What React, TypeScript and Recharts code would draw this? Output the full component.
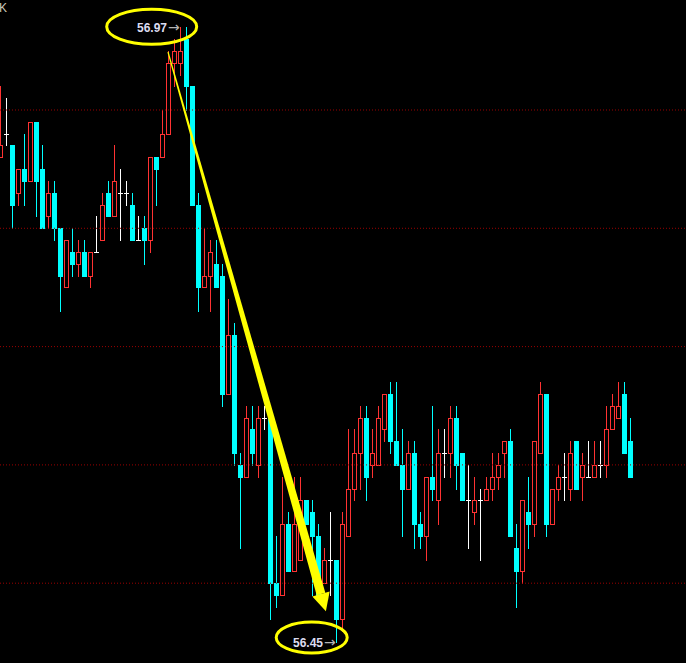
import React from 'react';
import { ComposedChart, Bar, XAxis, YAxis, ReferenceLine } from 'recharts';

// OHLC per candle (price), left to right
const opens = [
  56.86, 56.88, 56.87, 56.83, 56.85, 56.84, 56.89, 56.85, 56.81, 56.83,
  56.80, 56.75, 56.78, 56.77, 56.78, 56.76, 56.78, 56.79, 56.83, 56.81,
  56.83, 56.83, 56.82, 56.79, 56.80, 56.79, 56.86, 56.86, 56.88, 56.94,
  56.94, 56.96, 56.92, 56.82, 56.75, 56.76, 56.77, 56.76, 56.66, 56.71,
  56.60, 56.59, 56.63, 56.60, 56.64, 56.64, 56.50, 56.49, 56.55, 56.51,
  56.52, 56.57, 56.56, 56.54, 56.50, 56.52, 56.52, 56.47, 56.54, 56.58,
  56.61, 56.64, 56.60, 56.60, 56.63, 56.66, 56.62, 56.60, 56.58, 56.61,
  56.55, 56.54, 56.59, 56.57, 56.61, 56.61, 56.64, 56.61, 56.57, 56.56,
  56.57, 56.57, 56.58, 56.59, 56.61, 56.62, 56.53, 56.51, 56.56, 56.55,
  56.61, 56.66, 56.55, 56.58, 56.59, 56.58, 56.62, 56.59, 56.59, 56.59,
  56.60, 56.60, 56.63, 56.64, 56.66, 56.62,
];
const highs = [
  56.92, 56.91, 56.87, 56.85, 56.88, 56.89, 56.89, 56.87, 56.84, 56.84,
  56.80, 56.79, 56.80, 56.79, 56.79, 56.78, 56.81, 56.83, 56.84, 56.87,
  56.85, 56.84, 56.83, 56.81, 56.81, 56.86, 56.86, 56.90, 56.95, 56.96,
  56.97, 56.97, 56.92, 56.83, 56.80, 56.79, 56.79, 56.77, 56.74, 56.72,
  56.61, 56.65, 56.65, 56.65, 56.65, 56.65, 56.54, 56.59, 56.56, 56.59,
  56.59, 56.57, 56.57, 56.55, 56.53, 56.56, 56.52, 56.56, 56.63, 56.63,
  56.65, 56.65, 56.63, 56.65, 56.66, 56.67, 56.67, 56.63, 56.62, 56.62,
  56.56, 56.59, 56.65, 56.63, 56.63, 56.65, 56.65, 56.61, 56.60, 56.59,
  56.58, 56.59, 56.61, 56.61, 56.62, 56.63, 56.55, 56.57, 56.59, 56.62,
  56.67, 56.66, 56.58, 56.60, 56.61, 56.62, 56.62, 56.61, 56.62, 56.62,
  56.62, 56.65, 56.66, 56.67, 56.67, 56.64,
];
const lows = [
  56.86, 56.87, 56.80, 56.82, 56.82, 56.84, 56.81, 56.80, 56.80, 56.79,
  56.73, 56.75, 56.76, 56.76, 56.76, 56.75, 56.78, 56.79, 56.81, 56.81,
  56.79, 56.82, 56.79, 56.79, 56.77, 56.78, 56.82, 56.86, 56.88, 56.92,
  56.93, 56.90, 56.82, 56.73, 56.75, 56.73, 56.75, 56.65, 56.66, 56.60,
  56.53, 56.59, 56.60, 56.59, 56.63, 56.47, 56.48, 56.49, 56.51, 56.51,
  56.52, 56.55, 56.49, 56.49, 56.50, 56.49, 56.45, 56.46, 56.54, 56.57,
  56.58, 56.57, 56.59, 56.60, 56.62, 56.61, 56.60, 56.54, 56.58, 56.53,
  56.53, 56.52, 56.57, 56.55, 56.59, 56.59, 56.58, 56.57, 56.53, 56.55,
  56.52, 56.57, 56.57, 56.58, 56.59, 56.54, 56.48, 56.50, 56.53, 56.54,
  56.61, 56.54, 56.55, 56.57, 56.57, 56.57, 56.58, 56.57, 56.59, 56.59,
  56.59, 56.59, 56.63, 56.64, 56.61, 56.59,
];
const closes = [
  56.87, 56.88, 56.82, 56.85, 56.84, 56.89, 56.84, 56.80, 56.83, 56.80,
  56.76, 56.79, 56.77, 56.78, 56.76, 56.78, 56.78, 56.82, 56.81, 56.84,
  56.83, 56.83, 56.79, 56.79, 56.79, 56.86, 56.85, 56.88, 56.94, 56.95,
  56.95, 56.92, 56.82, 56.75, 56.76, 56.78, 56.75, 56.66, 56.71, 56.61,
  56.59, 56.64, 56.61, 56.64, 56.64, 56.50, 56.49, 56.55, 56.51, 56.55,
  56.57, 56.55, 56.54, 56.49, 56.52, 56.52, 56.47, 56.55, 56.58, 56.61,
  56.64, 56.59, 56.61, 56.64, 56.66, 56.62, 56.60, 56.58, 56.61, 56.55,
  56.54, 56.59, 56.58, 56.61, 56.61, 56.64, 56.60, 56.57, 56.57, 56.57,
  56.57, 56.58, 56.59, 56.60, 56.62, 56.54, 56.51, 56.57, 56.55, 56.62,
  56.66, 56.55, 56.58, 56.59, 56.59, 56.61, 56.58, 56.60, 56.59, 56.60,
  56.60, 56.63, 56.65, 56.65, 56.61, 56.59,
];

const gridLevels = [56.5, 56.6, 56.7, 56.8, 56.9];
const highLabel = '56.97';
const lowLabel = '56.45';
const cornerLabel = 'K';

const W = 686;
const H = 663;
const SLOTS = 115; // empty slots to the right of the last candle
const UP = '#ff3232';
const DOWN = '#00ffff';
const FLAT = '#ffffff';
const YEL = '#ffff00';

const Candle = (props: any) => {
  const { x, y, width, height, payload } = props;
  if (!payload || payload.range == null) return null;
  const { open, close, high, low } = payload;
  const top = Math.min(y, y + height);
  const h = Math.abs(height);
  const toY = (v: number) => (high === low ? top : top + ((high - v) / (high - low)) * h);
  const col = Math.floor(x + width / 2 + 0.01);
  const rH = Math.round(toY(high));
  const rL = Math.round(toY(low));
  const rO = Math.round(toY(open));
  const rC = Math.round(toY(close));

  if (close > open) {
    return (
      <g>
        {rC > rH && <rect x={col} y={rH} width={1} height={rC - rH} fill={UP} />}
        {rL > rO && <rect x={col} y={rO + 1} width={1} height={rL - rO} fill={UP} />}
        <rect x={col - 1.5} y={rC + 0.5} width={4} height={Math.max(1, rO - rC)} fill="#000" stroke={UP} strokeWidth={1} />
      </g>
    );
  }
  if (close < open) {
    return (
      <g>
        <rect x={col} y={rH} width={1} height={Math.max(1, rL - rH + 1)} fill={DOWN} />
        <rect x={col - 2} y={rO} width={5} height={Math.max(1, rC - rO + 1)} fill={DOWN} />
      </g>
    );
  }
  return (
    <g>
      <rect x={col} y={rH} width={1} height={Math.max(1, rL - rH + 1)} fill={FLAT} />
      <rect x={col - 2} y={rO} width={5} height={1} fill={FLAT} />
    </g>
  );
};

// yellow tapered arrow from the top to the bottom
const arrowStart = { x: 168, y: 52 };
const arrowEnd = { x: 321, y: 594 };

const Arrow = () => {
  const dx = arrowEnd.x - arrowStart.x;
  const dy = arrowEnd.y - arrowStart.y;
  const len = Math.sqrt(dx * dx + dy * dy);
  const ux = dx / len, uy = dy / len;
  const px = uy, py = -ux;
  const w0 = 0.6, w1 = 4.5, hw = 9, hl = 18;
  const pt = (x: number, y: number) => `${x},${y}`;
  const body = [
    pt(arrowStart.x + w0 * px, arrowStart.y + w0 * py),
    pt(arrowEnd.x + w1 * px, arrowEnd.y + w1 * py),
    pt(arrowEnd.x - w1 * px, arrowEnd.y - w1 * py),
    pt(arrowStart.x - w0 * px, arrowStart.y - w0 * py),
  ].join(' ');
  const head = [
    pt(arrowEnd.x + hw * px, arrowEnd.y + hw * py),
    pt(arrowEnd.x + hl * ux, arrowEnd.y + hl * uy),
    pt(arrowEnd.x - hw * px, arrowEnd.y - hw * py),
  ].join(' ');
  return (
    <g>
      <polygon points={body} fill={YEL} />
      <polygon points={head} fill={YEL} />
    </g>
  );
};

const App = () => {
  const data = [];
  for (let i = 0; i < SLOTS; i++) {
    if (i < opens.length) {
      data.push({ idx: i, open: opens[i], high: highs[i], low: lows[i], close: closes[i], range: [lows[i], highs[i]] });
    } else {
      data.push({ idx: i, range: null });
    }
  }
  const font = '"Liberation Sans", Arial, sans-serif';

  return (
    <div style={{ position: 'absolute', left: 0, top: 0, width: W, height: H, background: '#000', overflow: 'hidden' }}>
      <ComposedChart
        width={W}
        height={H}
        data={data}
        margin={{ top: 0, right: -1, bottom: 0, left: -3 }}
      >
        <XAxis dataKey="idx" hide />
        <YAxis type="number" domain={[56.43254, 56.99298]} hide allowDataOverflow />
        {gridLevels.map((g) => (
          <ReferenceLine key={g} y={g} stroke="#9a0000" strokeDasharray="1 2" strokeWidth={1} />
        ))}
        <Bar dataKey="range" shape={(p: any) => <Candle {...p} />} isAnimationActive={false} />
      </ComposedChart>
      <svg width={W} height={H} style={{ position: 'absolute', left: 0, top: 0, pointerEvents: 'none' }}>
        <text x={-1} y={12} fontFamily={font} fontSize={12} fill="#c8c8b8">{cornerLabel}</text>
        <Arrow />
        <ellipse cx={151.7} cy={26.7} rx={45} ry={17.5} fill="none" stroke={YEL} strokeWidth={3} />
        <text x={137} y={32} fontFamily={font} fontSize={12} fontWeight="bold" fill="#dcdcf0">
          {highLabel}
          <tspan fill="#b4b4b4" dx={1} fontFamily="DejaVu Sans" fontWeight="normal" fontSize={14}>→</tspan>
        </text>
        <ellipse cx={311.7} cy={637.5} rx={35.5} ry={15.5} fill="none" stroke={YEL} strokeWidth={3} />
        <text x={293} y={647} fontFamily={font} fontSize={12} fontWeight="bold" fill="#dcdcf0">
          {lowLabel}
          <tspan fill="#b4b4b4" dx={1} fontFamily="DejaVu Sans" fontWeight="normal" fontSize={14}>→</tspan>
        </text>
      </svg>
    </div>
  );
};

export default App;
